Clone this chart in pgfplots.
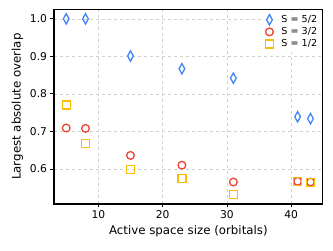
\documentclass[border=0pt]{standalone}
\usepackage{fontspec}
\setmainfont{DejaVu Sans}
\usepackage{pgfplots}
\pgfplotsset{compat=1.18}
\definecolor{cblue}{HTML}{4285F4}
\definecolor{cred}{HTML}{EA4335}
\definecolor{cyel}{HTML}{FBBC05}
\begin{document}
\begin{tikzpicture}
\useasboundingbox (0,0) rectangle (333pt,251pt);
\begin{axis}[
  at={(54pt,47pt)}, anchor=south west,
  scale only axis, width=268.7pt, height=194.7pt,
  xmin=3.1, xmax=44.9, ymin=0.5065, ymax=1.0255,
  xtick={10,20,30,40}, ytick={0.6,0.7,0.8,0.9,1.0},
  /pgf/number format/assume math mode=true,
  yticklabel style={/pgf/number format/.cd, fixed, fixed zerofill, precision=1},
  tick label style={font=\fontsize{10.7}{12}\selectfont},
  label style={font=\fontsize{11.8}{13}\selectfont},
  xlabel={Active space size (orbitals)},
  ylabel={Largest absolute overlap},
  tick align=outside, tick pos=left,
  major tick length=3.5pt,
  axis line style={line width=1.1pt},
  every tick/.style={black, line width=0.8pt},
  grid=major,
  major grid style={dashed, line width=0.6pt, color=black!18},
  legend style={at={(0.995,0.99)}, anchor=north east, draw=none, fill=white, fill opacity=0.8, text opacity=1,
    font=\fontsize{9.6}{10}\selectfont, row sep=-0.5pt, inner sep=2pt,
    /tikz/every odd column/.append style={column sep=6pt}},
  legend cell align=left,
]
\addplot[only marks, color=cblue, mark=diamond, mark size=5.2pt, mark options={xscale=0.73, line width=1.3pt, solid}]
  coordinates {(5,1.0) (8,1.0) (15,0.901) (23,0.867) (31,0.842) (41,0.739) (43,0.734)};
\addlegendentry{S = 5/2}
\addplot[only marks, color=cred, mark=o, mark size=3.85pt, mark options={line width=1.3pt, solid}]
  coordinates {(5,0.709) (8,0.708) (15,0.636) (23,0.610) (31,0.565) (41,0.567) (43,0.565)};
\addlegendentry{S = 3/2}
\addplot[only marks, color=cyel, mark=square, mark size=4pt, mark options={line width=1.3pt, solid}]
  coordinates {(5,0.770) (8,0.668) (15,0.598) (23,0.574) (31,0.532) (41,0.567) (43,0.564)};
\addlegendentry{S = 1/2}
\end{axis}
\end{tikzpicture}
\end{document}
